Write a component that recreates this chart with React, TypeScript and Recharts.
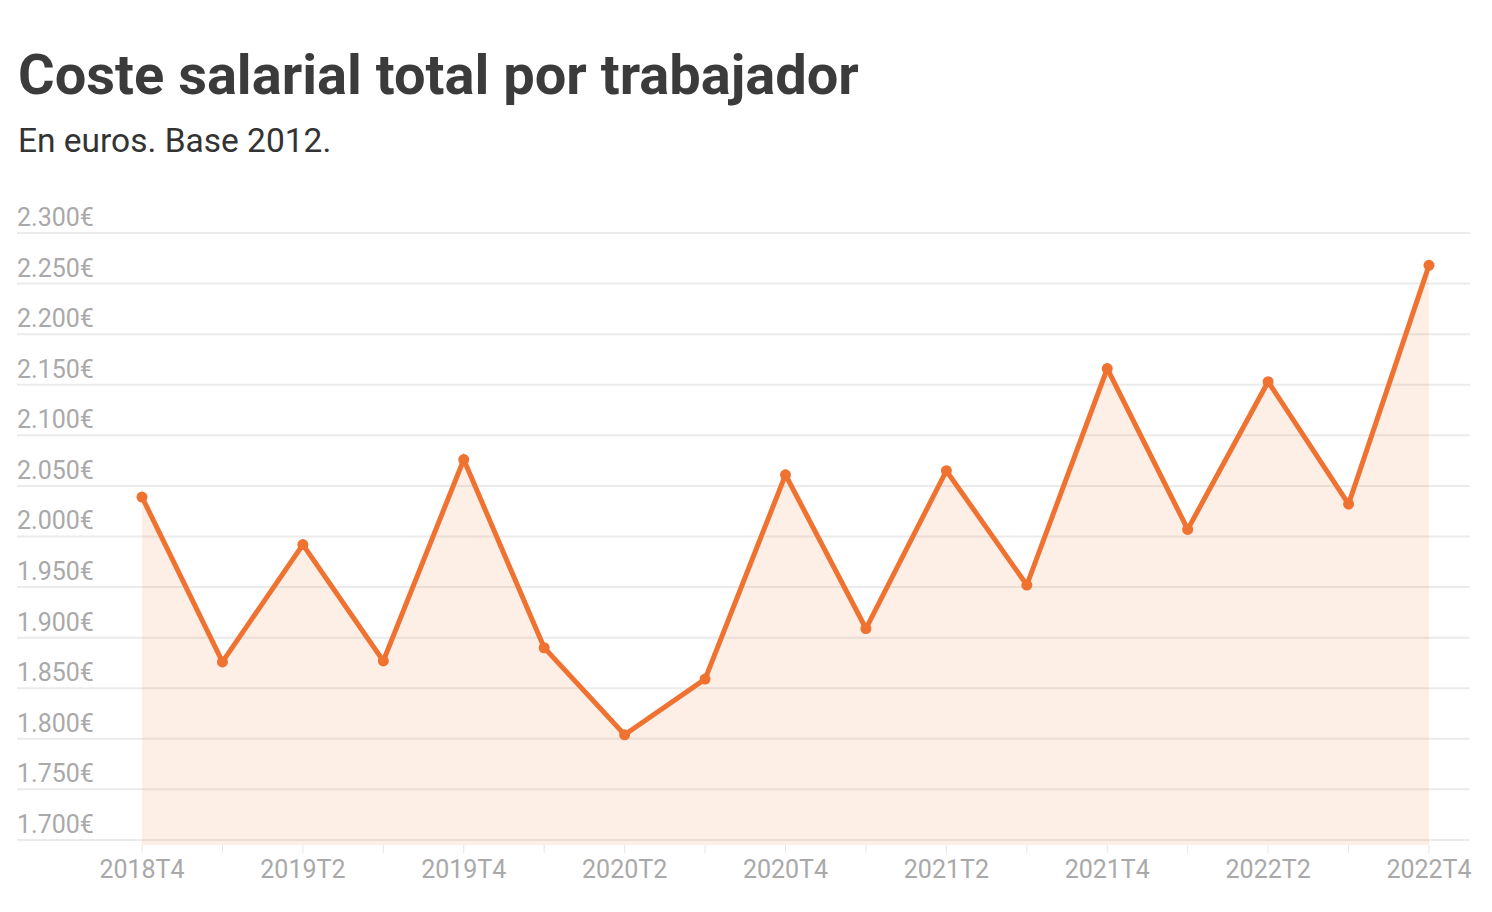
import { AreaChart, Area, XAxis, YAxis, CartesianGrid } from 'recharts'

const quarters = [
  '2018T4', '2019T1', '2019T2', '2019T3', '2019T4',
  '2020T1', '2020T2', '2020T3', '2020T4',
  '2021T1', '2021T2', '2021T3', '2021T4',
  '2022T1', '2022T2', '2022T3', '2022T4',
]

const coste = [
  2039, 1876, 1992, 1877, 2076,
  1890, 1804, 1859, 2061,
  1909, 2065, 1952, 2166,
  2007, 2153, 2032, 2268,
]

const yTicks = [1700, 1750, 1800, 1850, 1900, 1950, 2000, 2050, 2100, 2150, 2200, 2250, 2300]

const ORANGE = '#ef7231'
const LABEL = '#a9a9a9'

const data = quarters.map((q, i) => ({ q, value: coste[i] }))

const fmtEuro = (v: number) => {
  const s = String(v)
  return `${s.slice(0, s.length - 3)}.${s.slice(-3)}€`
}

function XTick(props: any) {
  const { x, y, payload, index } = props
  if (index % 2 !== 0) return null
  return (
    <text x={x} y={y + 23} textAnchor="middle" fill={LABEL} fontSize={25} fontFamily="Roboto">
      {payload.value}
    </text>
  )
}

function YTick(props: any) {
  const { x, y, payload } = props
  return (
    <text x={x} y={y - 7} textAnchor="start" fill={LABEL} fontSize={25} fontFamily="Roboto">
      {fmtEuro(payload.value)}
    </text>
  )
}

function Dot(props: any) {
  const { cx, cy, index } = props
  if (cx == null || cy == null) return null
  return <circle key={`dot-${index}`} cx={cx} cy={cy} r={5.5} fill={ORANGE} />
}

export default function App() {
  return (
    <div
      style={{
        position: 'absolute',
        left: 0,
        top: 0,
        width: 1492,
        height: 912,
        background: '#fff',
        fontFamily: 'Roboto, sans-serif',
      }}
    >
      <div
        style={{
          position: 'absolute',
          left: 18,
          top: 47,
          fontSize: 56,
          lineHeight: '56px',
          fontWeight: 700,
          color: '#3b3b3b',
          whiteSpace: 'nowrap',
        }}
      >
        Coste salarial total por trabajador
      </div>
      <div
        style={{
          position: 'absolute',
          left: 18,
          top: 124,
          fontSize: 33.5,
          lineHeight: '34px',
          color: '#333',
          whiteSpace: 'nowrap',
        }}
      >
        En euros. Base 2012.
      </div>

      <div style={{ position: 'absolute', left: 0, top: 0 }}>
        <AreaChart
          width={1492}
          height={912}
          data={data}
          margin={{ top: 233, right: 22, bottom: 27, left: 16 }}
        >
          <CartesianGrid
            vertical={false}
            horizontalValues={yTicks}
            stroke="#ebebeb"
            strokeWidth={2}
          />
          <XAxis
            dataKey="q"
            interval={0}
            height={40}
            padding={{ left: 125, right: 41 }}
            axisLine={false}
            tickLine={{ stroke: '#e6e6e6', strokeWidth: 1 }}
            tickSize={8}
            tick={<XTick />}
          />
          <YAxis
            domain={[1695, 2300]}
            ticks={yTicks}
            width={1}
            axisLine={false}
            tickLine={false}
            tickSize={0}
            tickMargin={0}
            tick={<YTick />}
            interval={0}
          />
          <Area
            type="linear"
            dataKey="value"
            stroke={ORANGE}
            strokeWidth={5}
            fill={ORANGE}
            fillOpacity={0.12}
            dot={<Dot />}
            activeDot={false}
            isAnimationActive={false}
          />
        </AreaChart>
      </div>
    </div>
  )
}
